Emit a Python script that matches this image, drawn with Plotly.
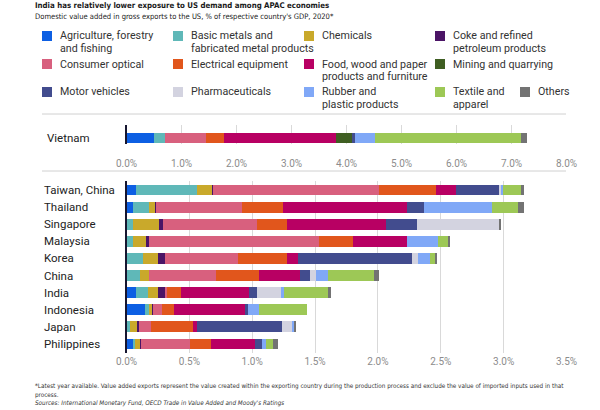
import plotly.graph_objects as go

# sectors (stack order, left to right) and their colours
sectors = ["Agriculture, forestry and fishing", "Basic metals and fabricated metal products",
           "Chemicals", "Coke and refined petroleum products", "Consumer optical",
           "Electrical equipment", "Food, wood and paper products and furniture",
           "Mining and quarrying", "Motor vehicles", "Pharmaceuticals",
           "Rubber and plastic products", "Textile and apparel", "Others"]
colors = ["#0d5fe3", "#5fb8b8", "#c9a92b", "#4b1466", "#d8607e", "#e1561c", "#b80063",
          "#3f5e22", "#424c8e", "#d3d3e0", "#80a8f7", "#9dc856", "#737373"]

# legend text, split where the reference breaks the lines
legend_lines = [["Agriculture, forestry", "and fishing"], ["Basic metals and", "fabricated metal products"],
                ["Chemicals"], ["Coke and refined", "petroleum products"],
                ["Consumer optical"], ["Electrical equipment"],
                ["Food, wood and paper", "products and furniture"], ["Mining and quarrying"],
                ["Motor vehicles"], ["Pharmaceuticals"], ["Rubber and", "plastic products"],
                ["Textile and", "apparel"], ["Others"]]

# % of GDP, Vietnam (top panel), one value per sector
vietnam = [0.50, 0.20, 0.0, 0.0, 0.74, 0.33, 2.03, 0.30, 0.06, 0.0, 0.36, 2.65, 0.115]

countries = ["Taiwan, China", "Thailand", "Singapore", "Malaysia", "Korea",
             "China", "India", "Indonesia", "Japan", "Philippines"]

# % of GDP per sector, same order as countries
agriculture = [0.077, 0.055, 0.0, 0.0, 0.0, 0.0, 0.074, 0.15, 0.0, 0.055]
basic_metals = [0.48, 0.12, 0.05, 0.055, 0.13, 0.11, 0.10, 0.027, 0.027, 0.016]
chemicals = [0.12, 0.055, 0.21, 0.10, 0.12, 0.07, 0.077, 0.027, 0.055, 0.033]
coke = [0.014, 0.008, 0.032, 0.025, 0.055, 0.0, 0.055, 0.008, 0.014, 0.01]
consumer_optical = [1.32, 0.68, 0.75, 1.35, 0.58, 0.53, 0.02, 0.074, 0.10, 0.39]
electrical = [0.45, 0.33, 0.235, 0.27, 0.39, 0.34, 0.11, 0.09, 0.33, 0.17]
food_wood = [0.16, 0.98, 0.79, 0.43, 0.088, 0.33, 0.54, 0.57, 0.033, 0.35]
mining = [0.0, 0.0, 0.0, 0.0, 0.0, 0.0, 0.0, 0.0, 0.0, 0.0]
motor = [0.34, 0.14, 0.24, 0.0, 0.91, 0.077, 0.063, 0.02, 0.68, 0.05]
pharma = [0.02, 0.0, 0.66, 0.0, 0.047, 0.047, 0.19, 0.0, 0.074, 0.0]
rubber = [0.01, 0.54, 0.0, 0.25, 0.096, 0.096, 0.022, 0.09, 0.022, 0.033]
textile = [0.15, 0.21, 0.0, 0.077, 0.04, 0.37, 0.35, 0.38, 0.0, 0.06]
others = [0.02, 0.04, 0.014, 0.01, 0.014, 0.04, 0.025, 0.0, 0.014, 0.036]

lower = [agriculture, basic_metals, chemicals, coke, consumer_optical, electrical,
         food_wood, mining, motor, pharma, rubber, textile, others]

W, H = 600, 410
FONT = "Roboto, Liberation Sans, sans-serif"
NARROW = "DejaVu Sans Condensed, Liberation Sans, sans-serif"


# positions below are in window pixels (body margin is removed after plotting)
def px(x):
    return x / W


def py(y):
    return 1 - y / H


fig = go.Figure()

for i, name in enumerate(sectors):
    fig.add_trace(go.Bar(x=[vietnam[i]], y=["Vietnam"], orientation="h", name=name,
                         marker=dict(color=colors[i], line=dict(width=0)),
                         xaxis="x", yaxis="y", showlegend=False))
    fig.add_trace(go.Bar(x=lower[i], y=countries, orientation="h", name=name,
                         marker=dict(color=colors[i], line=dict(width=0)),
                         xaxis="x2", yaxis="y2", showlegend=False))

axis_common = dict(showgrid=True, gridcolor="#d9d9d9", gridwidth=1, zeroline=False,
                   ticksuffix="%", tickformat=".1f", showline=False, automargin=False,
                   tickfont=dict(family=FONT, size=10, color="#8c8c8c"),
                   domain=[px(126.5), px(566.5)])
yaxis_common = dict(showticklabels=False, showgrid=False, zeroline=False, showline=True,
                    linecolor="#161630", linewidth=2, layer="above traces", automargin=False)

fig.update_layout(
    width=W, height=H,
    margin=dict(l=0, r=0, t=0, b=0, autoexpand=False),
    paper_bgcolor="white", plot_bgcolor="white",
    barmode="stack", bargap=0.36,
    xaxis=dict(axis_common, range=[0, 8], dtick=1, anchor="y", ticklabelstandoff=12),
    yaxis=dict(yaxis_common, domain=[py(144), py(125)], range=[-0.365, 0.851], anchor="x"),
    xaxis2=dict(axis_common, range=[0, 3.5], dtick=0.5, anchor="y2", ticklabelstandoff=1),
    yaxis2=dict(yaxis_common, domain=[py(353), py(181)], autorange="reversed", anchor="x2"),
)

ann = []
# title and subtitle
ann.append(dict(text="<b>India has relatively lower exposure to US demand among APAC economies</b>",
                x=px(33), y=py(5.5), xanchor="left", yanchor="middle",
                font=dict(family=NARROW, size=7.8, color="#1a1a1a")))
ann.append(dict(text="Domestic value added in gross exports to the US, % of respective country's GDP, 2020*",
                x=px(33), y=py(16), xanchor="left", yanchor="middle",
                font=dict(family=NARROW, size=7.55, color="#1a1a1a")))

# hand-placed legend grid
leg_pos = [(42, 36), (173, 36), (304, 36), (435, 36),
           (42, 64), (173, 64), (304, 64), (435, 64),
           (42, 92), (173, 92), (304, 92), (435, 92), (520, 92)]
shapes = []
for i, (lx, ly) in enumerate(leg_pos):
    shapes.append(dict(type="rect", xref="paper", yref="paper",
                       x0=px(lx), x1=px(lx + 10), y0=py(ly + 5), y1=py(ly - 5),
                       fillcolor=colors[i], line=dict(width=0)))
    for k, line in enumerate(legend_lines[i]):
        ann.append(dict(text=line, x=px(lx + 16), y=py(ly + 12.4 * k),
                        xanchor="left", yanchor="middle",
                        font=dict(family=FONT, size=10.7, color="#333333")))

# separators between the sections
for sy in [114, 171]:
    shapes.append(dict(type="line", xref="paper", yref="paper",
                       x0=px(42), x1=px(566), y0=py(sy), y1=py(sy),
                       line=dict(color="#d0d0d0", width=1)))

# category labels, left aligned
ann.append(dict(text="Vietnam", x=px(45), xref="paper", y="Vietnam", yref="y",
                xanchor="left", yanchor="middle",
                font=dict(family=FONT, size=11.5, color="#222222")))
for c in countries:
    ann.append(dict(text=c, x=px(42), xref="paper", y=c, yref="y2",
                    xanchor="left", yanchor="middle",
                    font=dict(family=FONT, size=11.5, color="#222222")))

# footnotes
ann.append(dict(text="*Latest year available. Value added exports represent the value created within the "
                     "exporting country during the production process and exclude the value of imported "
                     "inputs used in that",
                x=px(33), y=py(386), xanchor="left", yanchor="middle",
                font=dict(family=NARROW, size=6.3, color="#333333")))
ann.append(dict(text="process.", x=px(33), y=py(395), xanchor="left", yanchor="middle",
                font=dict(family=NARROW, size=6.3, color="#333333")))
ann.append(dict(text="<i>Sources: International Monetary Fund, OECD Trade in Value Added and Moody's Ratings</i>",
                x=px(33), y=py(403), xanchor="left", yanchor="middle",
                font=dict(family=NARROW, size=6.3, color="#333333")))

for a in ann:
    a.setdefault("xref", "paper")
    a.setdefault("yref", "paper")
    a["showarrow"] = False
fig.update_layout(annotations=ann, shapes=shapes)

fig.write_html("out.html", config={"displayModeBar": False},
               post_script="document.body.style.margin = '0px';")
